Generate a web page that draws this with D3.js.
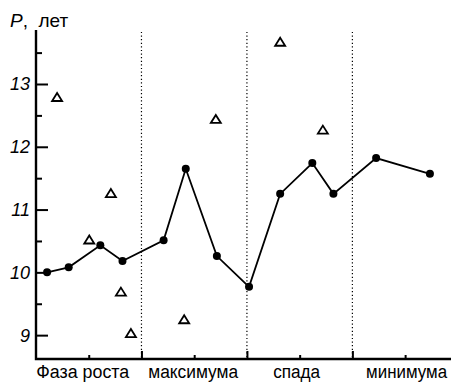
<!DOCTYPE html>
<html><head><meta charset="utf-8">
<script src="https://cdn.jsdelivr.net/npm/d3@7"></script>
<style>
html,body{margin:0;padding:0;background:#fff;}
svg{display:block;font-family:"Liberation Sans",Arial,sans-serif;}
</style></head>
<body>
<svg id="chart" width="451" height="382"></svg>
<script>
// Line series (filled circles): position along cycle (half-phase units) and P, years
const lineX = [0.21, 0.62, 1.22, 1.64, 2.42, 2.84, 3.43, 4.04, 4.63, 5.24, 5.64, 6.45, 7.47];
const lineY = [10.0, 10.08, 10.43, 10.18, 10.51, 11.65, 10.26, 9.77, 11.25, 11.74, 11.25, 11.82, 11.57];
// Open triangles
const triX = [0.40, 1.01, 1.42, 1.61, 1.80, 2.81, 3.41, 4.63, 5.44];
const triY = [12.79, 10.52, 11.26, 9.69, 9.03, 9.25, 12.44, 13.67, 12.27];
// Axis ticks / labels
const yMajor = [9, 10, 11, 12, 13];
const yMinor = [9.5, 10.5, 11.5, 12.5, 13.5];
const phaseBounds = [2, 4, 6];
const phaseMid = [1, 3, 5, 7];
const phaseLabels = ["Фаза роста", "максимума", "спада", "минимума"];
const yTitle = ["P", ",  лет"];

// label layout (style only)
const labelShift = [-6, -1, -3, 1.5];
const labelWidth = [93, 90, 47, 81];

const svg = d3.select("#chart");
const x = d3.scaleLinear().domain([0, 7.87]).range([36, 451]);
const y = d3.scaleLinear().domain([8.62, 13.86]).range([359, 30]);

// dotted phase separators
svg.selectAll("line.sep").data(phaseBounds).join("line")
  .attr("x1", d => x(d)).attr("x2", d => x(d))
  .attr("y1", y(13.83)).attr("y2", y.range()[0])
  .attr("stroke", "#000").attr("stroke-width", 1.2)
  .attr("stroke-dasharray", "1.2,2.4");

// Y axis: major ticks (inside), minor ticks
const yAxisMajor = d3.axisRight(y).tickValues(yMajor).tickSize(12).tickFormat("");
const gyM = svg.append("g").attr("transform", `translate(${x(0)},0)`).call(yAxisMajor);
gyM.select(".domain").remove();
gyM.selectAll(".tick line").attr("stroke-width", 2);
const yAxisMinor = d3.axisRight(y).tickValues(yMinor).tickSize(6).tickFormat("");
const gym = svg.append("g").attr("transform", `translate(${x(0)},0)`).call(yAxisMinor);
gym.select(".domain").remove();
gym.selectAll(".tick line").attr("stroke-width", 2);
svg.append("g").selectAll("text").data(yMajor).join("text")
  .attr("x", x(0) - 6).attr("y", d => y(d)).attr("dy", "0.36em")
  .attr("text-anchor", "end").attr("font-style", "italic")
  .attr("font-size", 18).text(d => d);

// X axis ticks (upward)
const xAxisMajor = d3.axisTop(x).tickValues(phaseBounds).tickSize(8).tickFormat("");
const gxM = svg.append("g").attr("transform", `translate(0,${y.range()[0]})`).call(xAxisMajor);
gxM.select(".domain").remove();
gxM.selectAll(".tick line").attr("stroke-width", 2);
const xAxisMinor = d3.axisTop(x).tickValues(phaseMid).tickSize(4).tickFormat("");
const gxm = svg.append("g").attr("transform", `translate(0,${y.range()[0]})`).call(xAxisMinor);
gxm.select(".domain").remove();
gxm.selectAll(".tick line").attr("stroke-width", 2);

// axis lines
svg.append("path")
  .attr("d", `M${x(0)},${y.range()[1]}V${y.range()[0]}H${x.range()[1]}`)
  .attr("fill", "none").attr("stroke", "#000").attr("stroke-width", 2.4);

// x labels
svg.append("g").selectAll("text").data(phaseLabels).join("text")
  .attr("x", (d, i) => x(phaseMid[i]) + labelShift[i] - labelWidth[i] / 2)
  .attr("y", 378).attr("text-anchor", "start")
  .attr("font-size", 18)
  .attr("textLength", (d, i) => labelWidth[i])
  .attr("lengthAdjust", "spacingAndGlyphs")
  .text(d => d);

// y title
const t = svg.append("text").attr("x", 10).attr("y", 27).attr("font-size", 19);
t.append("tspan").attr("font-style", "italic").text(yTitle[0]);
t.append("tspan").attr("xml:space", "preserve").text(yTitle[1]);

// line
const pts = lineX.map((d, i) => [d, lineY[i]]);
svg.append("path").datum(pts)
  .attr("d", d3.line().x(d => x(d[0])).y(d => y(d[1])))
  .attr("fill", "none").attr("stroke", "#000").attr("stroke-width", 1.8);
svg.selectAll("circle.pt").data(pts).join("circle")
  .attr("cx", d => x(d[0])).attr("cy", d => y(d[1])).attr("r", 4).attr("fill", "#000");

// triangles
const tri = triX.map((d, i) => [d, triY[i]]);
svg.selectAll("path.tri").data(tri).join("path")
  .attr("transform", d => `translate(${x(d[0])},${y(d[1])})`)
  .attr("d", "M0,-4.2L5,3.8L-5,3.8Z")
  .attr("fill", "none").attr("stroke", "#000").attr("stroke-width", 1.8)
  .attr("stroke-linejoin", "miter");
</script>
</body></html>
